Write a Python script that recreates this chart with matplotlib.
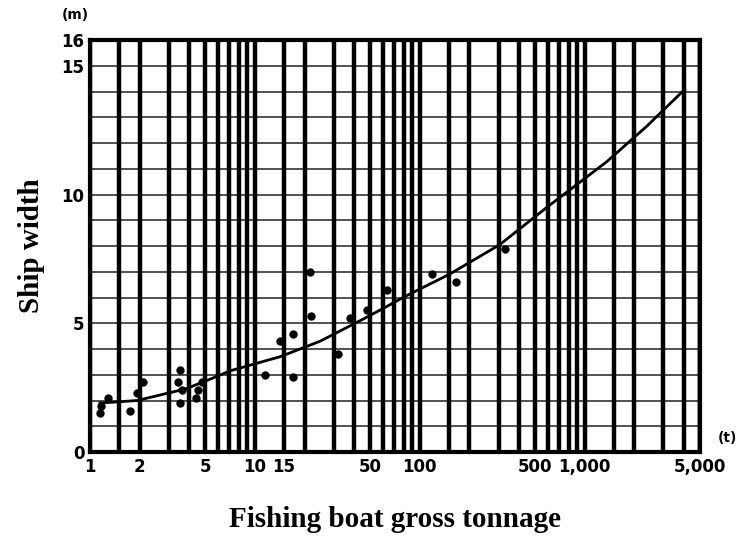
import numpy as np
import matplotlib
matplotlib.use("Agg")
from matplotlib import pyplot as plt

# data
x_ticks = [1, 2, 5, 10, 15, 50, 100, 500, 1000, 5000]
x_tick_labels = ["1", "2", "5", "10", "15", "50", "100", "500", "1,000", "5,000"]
y_ticks = [0, 5, 10, 15, 16]

# fitted curve (gross tonnage, width in m)
curve_t = [1.15, 1.93, 3.8, 5.7, 7.05, 14.2, 24.8, 45, 63, 79, 151, 305, 589, 1358, 2376, 4036]
curve_w = [1.9, 2.0, 2.45, 2.9, 3.15, 3.7, 4.3, 5.15, 5.65, 6.0, 6.9, 8.05, 9.5, 11.27, 12.65, 14.08]

# observed boats
boat_t = [1.29, 1.17, 1.15, 1.75, 1.93, 2.1, 3.5, 3.4, 3.6, 3.5, 4.4, 4.5, 4.8,
          11.5, 21.5, 22, 17, 14.1, 17, 32, 63, 48, 37.6, 118, 165, 330]
boat_w = [2.1, 1.8, 1.5, 1.6, 2.3, 2.7, 3.2, 2.7, 2.4, 1.9, 2.1, 2.4, 2.7,
          3.0, 7.0, 5.3, 4.6, 4.3, 2.9, 3.8, 6.3, 5.5, 5.2, 6.9, 6.6, 7.9]

# vertical grid (log paper)
grid_t = []
for dec in [1, 10, 100, 1000]:
    for m in [1, 1.5, 2, 3, 4, 5, 6, 7, 8, 9]:
        if dec * m <= 5000:
            grid_t.append(dec * m)
grid_t.append(5000)

fig = plt.figure(figsize=(7.39, 5.47), dpi=100)
ax = fig.add_axes([90 / 739, 1 - 452 / 547, 610 / 739, 412 / 547])

ax.set_xscale("log")
ax.set_xlim(1, 5000)
ax.set_ylim(0, 16)

for w in range(0, 17):
    ax.axhline(w, color="#333333", lw=1.2, zorder=1)
for t in grid_t:
    ax.axvline(t, color="black", lw=3.2, zorder=2)

ax.plot(curve_t, curve_w, color="black", lw=2.0, zorder=4)
ax.plot(boat_t, boat_w, "o", color="black", ms=5, zorder=5)

ax.set_xticks(x_ticks)
ax.set_xticklabels(x_tick_labels)
ax.minorticks_off()
ax.set_yticks(y_ticks)
ax.tick_params(length=0, labelsize=12, pad=4)
for lab in ax.get_xticklabels() + ax.get_yticklabels():
    lab.set_fontweight("bold")

for s in ax.spines.values():
    s.set_linewidth(3)
    s.set_color("black")

serif = {"family": "Liberation Serif", "weight": "bold", "size": 21}
ax.set_ylabel("Ship width", fontdict=serif, labelpad=12)
ax.set_xlabel("Fishing boat gross tonnage", fontdict=serif, labelpad=22)
fig.text(75 / 739, 1 - 15 / 547, "(m)", fontsize=10, fontweight="bold", ha="center", va="center")
fig.text(727 / 739, 1 - 438 / 547, "(t)", fontsize=10, fontweight="bold", ha="center", va="center")

fig.savefig("out.png", dpi=100)
